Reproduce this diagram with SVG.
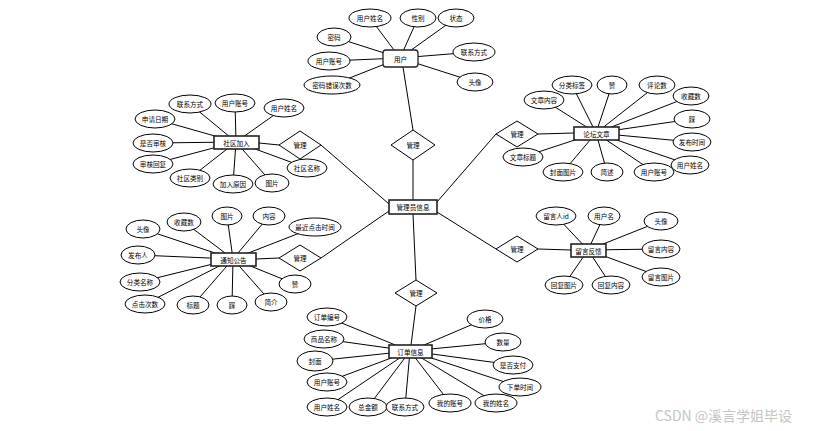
<svg xmlns="http://www.w3.org/2000/svg" width="815" height="431" viewBox="0 0 815 431">
<style>
.bg{fill:#fff}
.c line{stroke:#000;stroke-width:1}
.a ellipse{fill:#fff;stroke:#000;stroke-width:1}
.e rect{fill:#fff;stroke:#222;stroke-width:1.6}
.d polygon{fill:#fff;stroke:#000;stroke-width:1}
text{font-family:"Noto Sans CJK SC","Noto Sans",sans-serif;font-size:6.6px;text-anchor:middle;dominant-baseline:central;fill:#000}
.wm{font-size:14px;fill:#c4c4c4;text-anchor:start}
</style>
<rect class="bg" x="0" y="0" width="815" height="431"/>
<g id="connectors" class="c">
<line x1="370" y1="18" x2="400" y2="58"/>
<line x1="418" y1="18" x2="400" y2="58"/>
<line x1="456" y1="18" x2="400" y2="58"/>
<line x1="334" y1="37" x2="400" y2="58"/>
<line x1="329" y1="61" x2="400" y2="58"/>
<line x1="332" y1="85" x2="400" y2="58"/>
<line x1="474" y1="52" x2="400" y2="58"/>
<line x1="475" y1="82" x2="400" y2="58"/>
<line x1="190" y1="104" x2="236" y2="142"/>
<line x1="235" y1="103" x2="236" y2="142"/>
<line x1="284" y1="108" x2="236" y2="142"/>
<line x1="155" y1="119" x2="236" y2="142"/>
<line x1="153" y1="143" x2="236" y2="142"/>
<line x1="153" y1="164" x2="236" y2="142"/>
<line x1="190" y1="178" x2="236" y2="142"/>
<line x1="233" y1="184" x2="236" y2="142"/>
<line x1="272" y1="183" x2="236" y2="142"/>
<line x1="307" y1="168" x2="236" y2="142"/>
<line x1="544" y1="100" x2="596" y2="133"/>
<line x1="572" y1="85" x2="596" y2="133"/>
<line x1="612" y1="85" x2="596" y2="133"/>
<line x1="657" y1="85" x2="596" y2="133"/>
<line x1="691" y1="96" x2="596" y2="133"/>
<line x1="692" y1="119" x2="596" y2="133"/>
<line x1="692" y1="142" x2="596" y2="133"/>
<line x1="690" y1="165" x2="596" y2="133"/>
<line x1="654" y1="172" x2="596" y2="133"/>
<line x1="607" y1="172" x2="596" y2="133"/>
<line x1="563" y1="172" x2="596" y2="133"/>
<line x1="523" y1="157" x2="596" y2="133"/>
<line x1="143" y1="229" x2="233" y2="259"/>
<line x1="184" y1="222" x2="233" y2="259"/>
<line x1="227" y1="216" x2="233" y2="259"/>
<line x1="269" y1="216" x2="233" y2="259"/>
<line x1="315" y1="227" x2="233" y2="259"/>
<line x1="138" y1="255" x2="233" y2="259"/>
<line x1="140" y1="282" x2="233" y2="259"/>
<line x1="145" y1="304" x2="233" y2="259"/>
<line x1="193" y1="305" x2="233" y2="259"/>
<line x1="232" y1="305" x2="233" y2="259"/>
<line x1="271" y1="302" x2="233" y2="259"/>
<line x1="295" y1="284" x2="233" y2="259"/>
<line x1="556" y1="216" x2="588" y2="250"/>
<line x1="604" y1="216" x2="588" y2="250"/>
<line x1="661" y1="221" x2="588" y2="250"/>
<line x1="661" y1="249" x2="588" y2="250"/>
<line x1="661" y1="277" x2="588" y2="250"/>
<line x1="564" y1="285" x2="588" y2="250"/>
<line x1="611" y1="285" x2="588" y2="250"/>
<line x1="327" y1="317" x2="410" y2="351"/>
<line x1="324" y1="339" x2="410" y2="351"/>
<line x1="315" y1="361" x2="410" y2="351"/>
<line x1="327" y1="382" x2="410" y2="351"/>
<line x1="327" y1="407" x2="410" y2="351"/>
<line x1="368" y1="407" x2="410" y2="351"/>
<line x1="405" y1="407" x2="410" y2="351"/>
<line x1="450" y1="403" x2="410" y2="351"/>
<line x1="496" y1="403" x2="410" y2="351"/>
<line x1="520" y1="387" x2="410" y2="351"/>
<line x1="513" y1="365" x2="410" y2="351"/>
<line x1="503" y1="342" x2="410" y2="351"/>
<line x1="485" y1="319" x2="410" y2="351"/>
<line x1="403" y1="67" x2="413" y2="130"/>
<line x1="413" y1="160" x2="413" y2="200"/>
<line x1="259" y1="143" x2="279" y2="145"/>
<line x1="321" y1="145" x2="389" y2="204"/>
<line x1="538" y1="134" x2="574" y2="133"/>
<line x1="496" y1="134" x2="437" y2="202"/>
<line x1="256" y1="259" x2="279" y2="258"/>
<line x1="321" y1="258" x2="389" y2="211"/>
<line x1="538" y1="249" x2="571" y2="250"/>
<line x1="496" y1="249" x2="437" y2="212"/>
<line x1="413" y1="214" x2="416" y2="280"/>
<line x1="416" y1="306" x2="411" y2="345"/>
</g>
<g id="rel-user" class="d"><polygon points="391,145 413,130 435,145 413,160"/><text x="413" y="145">管理</text></g>
<g id="rel-join" class="d"><polygon points="279,145 300,131 321,145 300,159"/><text x="300" y="145">管理</text></g>
<g id="rel-article" class="d"><polygon points="496,134 517,121 538,134 517,147"/><text x="517" y="134">管理</text></g>
<g id="rel-notice" class="d"><polygon points="279,258 300,245 321,258 300,271"/><text x="300" y="258">管理</text></g>
<g id="rel-feedback" class="d"><polygon points="496,249 517,236 538,249 517,262"/><text x="517" y="249">管理</text></g>
<g id="rel-order" class="d"><polygon points="395,293 416,280 437,293 416,306"/><text x="416" y="293">管理</text></g>
<g id="ent-user"><rect x="383" y="50" width="35" height="17" rx="3" fill="#fff" stroke="#222" stroke-width="1.3"/><text x="400.5" y="58.5">用户</text></g>
<g id="ent-admin" class="e"><rect x="389" y="200" width="48" height="14"/><text x="413" y="207">管理员信息</text></g>
<g id="ent-join" class="e"><rect x="214" y="136" width="45" height="13"/><text x="236.5" y="142.5">社区加入</text></g>
<g id="ent-article" class="e"><rect x="574" y="127" width="45" height="13"/><text x="596.5" y="133.5">论坛文章</text></g>
<g id="ent-notice" class="e"><rect x="211" y="253" width="45" height="13"/><text x="233.5" y="259.5">通知公告</text></g>
<g id="ent-feedback" class="e"><rect x="571" y="244" width="35" height="13"/><text x="588.5" y="250.5">留言反馈</text></g>
<g id="ent-order" class="e"><rect x="389" y="345" width="43" height="13"/><text x="410.5" y="351.5">订单信息</text></g>
<g id="u1" class="a"><ellipse cx="370" cy="18" rx="21" ry="9"/><text x="370" y="18">用户姓名</text></g>
<g id="u2" class="a"><ellipse cx="418" cy="18" rx="18" ry="9"/><text x="418" y="18">性别</text></g>
<g id="u3" class="a"><ellipse cx="456" cy="18" rx="18" ry="9"/><text x="456" y="18">状态</text></g>
<g id="u4" class="a"><ellipse cx="334" cy="37" rx="17" ry="9"/><text x="334" y="37">密码</text></g>
<g id="u5" class="a"><ellipse cx="329" cy="61" rx="21" ry="9"/><text x="329" y="61">用户账号</text></g>
<g id="u6" class="a"><ellipse cx="332" cy="85" rx="28" ry="9"/><text x="332" y="85">密码错误次数</text></g>
<g id="u7" class="a"><ellipse cx="474" cy="52" rx="21" ry="9"/><text x="474" y="52">联系方式</text></g>
<g id="u8" class="a"><ellipse cx="475" cy="82" rx="18" ry="9"/><text x="475" y="82">头像</text></g>
<g id="j1" class="a"><ellipse cx="190" cy="104" rx="21" ry="9"/><text x="190" y="104">联系方式</text></g>
<g id="j2" class="a"><ellipse cx="235" cy="103" rx="20" ry="9"/><text x="235" y="103">用户账号</text></g>
<g id="j3" class="a"><ellipse cx="284" cy="108" rx="20" ry="9"/><text x="284" y="108">用户姓名</text></g>
<g id="j4" class="a"><ellipse cx="155" cy="119" rx="20" ry="9"/><text x="155" y="119">申请日期</text></g>
<g id="j5" class="a"><ellipse cx="153" cy="143" rx="20" ry="9"/><text x="153" y="143">是否审核</text></g>
<g id="j6" class="a"><ellipse cx="153" cy="164" rx="20" ry="9"/><text x="153" y="164">审核回复</text></g>
<g id="j7" class="a"><ellipse cx="190" cy="178" rx="20" ry="9"/><text x="190" y="178">社区类别</text></g>
<g id="j8" class="a"><ellipse cx="233" cy="184" rx="20" ry="9"/><text x="233" y="184">加入原因</text></g>
<g id="j9" class="a"><ellipse cx="272" cy="183" rx="17" ry="9"/><text x="272" y="183">图片</text></g>
<g id="j10" class="a"><ellipse cx="307" cy="168" rx="20" ry="9"/><text x="307" y="168">社区名称</text></g>
<g id="ar1" class="a"><ellipse cx="544" cy="100" rx="20" ry="9"/><text x="544" y="100">文章内容</text></g>
<g id="ar2" class="a"><ellipse cx="572" cy="85" rx="20" ry="9"/><text x="572" y="85">分类标签</text></g>
<g id="ar3" class="a"><ellipse cx="612" cy="85" rx="15" ry="9"/><text x="612" y="85">赞</text></g>
<g id="ar4" class="a"><ellipse cx="657" cy="85" rx="18" ry="9"/><text x="657" y="85">评论数</text></g>
<g id="ar5" class="a"><ellipse cx="691" cy="96" rx="18" ry="9"/><text x="691" y="96">收藏数</text></g>
<g id="ar6" class="a"><ellipse cx="692" cy="119" rx="18" ry="9"/><text x="692" y="119">踩</text></g>
<g id="ar7" class="a"><ellipse cx="692" cy="142" rx="19" ry="9"/><text x="692" y="142">发布时间</text></g>
<g id="ar8" class="a"><ellipse cx="690" cy="165" rx="19" ry="9"/><text x="690" y="165">用户姓名</text></g>
<g id="ar9" class="a"><ellipse cx="654" cy="172" rx="20" ry="9"/><text x="654" y="172">用户账号</text></g>
<g id="ar10" class="a"><ellipse cx="607" cy="172" rx="16" ry="9"/><text x="607" y="172">简述</text></g>
<g id="ar11" class="a"><ellipse cx="563" cy="172" rx="20" ry="9"/><text x="563" y="172">封面图片</text></g>
<g id="ar12" class="a"><ellipse cx="523" cy="157" rx="20" ry="9"/><text x="523" y="157">文章标题</text></g>
<g id="n1" class="a"><ellipse cx="143" cy="229" rx="17" ry="9"/><text x="143" y="229">头像</text></g>
<g id="n2" class="a"><ellipse cx="184" cy="222" rx="17" ry="9"/><text x="184" y="222">收藏数</text></g>
<g id="n3" class="a"><ellipse cx="227" cy="216" rx="15" ry="9"/><text x="227" y="216">图片</text></g>
<g id="n4" class="a"><ellipse cx="269" cy="216" rx="16" ry="9"/><text x="269" y="216">内容</text></g>
<g id="n5" class="a"><ellipse cx="315" cy="227" rx="26" ry="9"/><text x="315" y="227">最近点击时间</text></g>
<g id="n6" class="a"><ellipse cx="138" cy="255" rx="17" ry="9"/><text x="138" y="255">发布人</text></g>
<g id="n7" class="a"><ellipse cx="140" cy="282" rx="20" ry="9"/><text x="140" y="282">分类名称</text></g>
<g id="n8" class="a"><ellipse cx="145" cy="304" rx="20" ry="9"/><text x="145" y="304">点击次数</text></g>
<g id="n9" class="a"><ellipse cx="193" cy="305" rx="16" ry="9"/><text x="193" y="305">标题</text></g>
<g id="n10" class="a"><ellipse cx="232" cy="305" rx="15" ry="9"/><text x="232" y="305">踩</text></g>
<g id="n11" class="a"><ellipse cx="271" cy="302" rx="16" ry="9"/><text x="271" y="302">简介</text></g>
<g id="n12" class="a"><ellipse cx="295" cy="284" rx="16" ry="9"/><text x="295" y="284">赞</text></g>
<g id="f1" class="a"><ellipse cx="556" cy="216" rx="20" ry="9"/><text x="556" y="216">留言人id</text></g>
<g id="f2" class="a"><ellipse cx="604" cy="216" rx="16" ry="9"/><text x="604" y="216">用户名</text></g>
<g id="f3" class="a"><ellipse cx="661" cy="221" rx="17" ry="9"/><text x="661" y="221">头像</text></g>
<g id="f4" class="a"><ellipse cx="661" cy="249" rx="19" ry="9"/><text x="661" y="249">留言内容</text></g>
<g id="f5" class="a"><ellipse cx="661" cy="277" rx="19" ry="9"/><text x="661" y="277">留言图片</text></g>
<g id="f6" class="a"><ellipse cx="564" cy="285" rx="19" ry="9"/><text x="564" y="285">回复图片</text></g>
<g id="f7" class="a"><ellipse cx="611" cy="285" rx="19" ry="9"/><text x="611" y="285">回复内容</text></g>
<g id="o1" class="a"><ellipse cx="327" cy="317" rx="20" ry="9"/><text x="327" y="317">订单编号</text></g>
<g id="o2" class="a"><ellipse cx="324" cy="339" rx="20" ry="9"/><text x="324" y="339">商品名称</text></g>
<g id="o3" class="a"><ellipse cx="315" cy="361" rx="18" ry="10"/><text x="315" y="361">封面</text></g>
<g id="o4" class="a"><ellipse cx="327" cy="382" rx="20" ry="9"/><text x="327" y="382">用户账号</text></g>
<g id="o5" class="a"><ellipse cx="327" cy="407" rx="20" ry="9"/><text x="327" y="407">用户姓名</text></g>
<g id="o6" class="a"><ellipse cx="368" cy="407" rx="19" ry="9"/><text x="368" y="407">总金额</text></g>
<g id="o7" class="a"><ellipse cx="405" cy="407" rx="19" ry="9"/><text x="405" y="407">联系方式</text></g>
<g id="o8" class="a"><ellipse cx="450" cy="403" rx="21" ry="9"/><text x="450" y="403">我的账号</text></g>
<g id="o9" class="a"><ellipse cx="496" cy="403" rx="21" ry="9"/><text x="496" y="403">我的姓名</text></g>
<g id="o10" class="a"><ellipse cx="520" cy="387" rx="21" ry="9"/><text x="520" y="387">下单时间</text></g>
<g id="o11" class="a"><ellipse cx="513" cy="365" rx="20" ry="9"/><text x="513" y="365">是否支付</text></g>
<g id="o12" class="a"><ellipse cx="503" cy="342" rx="18" ry="9"/><text x="503" y="342">数量</text></g>
<g id="o13" class="a"><ellipse cx="485" cy="319" rx="18" ry="9"/><text x="485" y="319">价格</text></g>
<text class="wm" x="655" y="415">CSDN @溪言学姐毕设</text>
</svg>
